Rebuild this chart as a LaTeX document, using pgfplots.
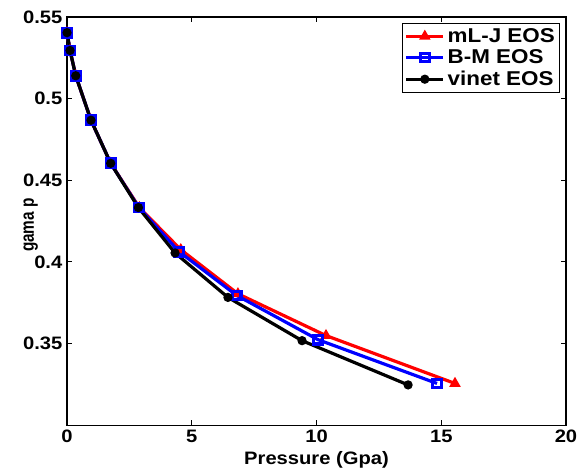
\documentclass[border=0pt]{standalone}
\usepackage{fontspec}
\setmainfont{Liberation Sans}[FakeStretch=1.12]
\newfontfamily\ylfont{Liberation Sans}
\usepackage{graphicx}
\usepackage{pgfplots}
\pgfplotsset{compat=1.18}
\newcommand{\figfont}{\fontsize{13.5}{15}\selectfont\bfseries}
\newcommand{\legfont}{\fontsize{15}{17}\selectfont\bfseries}
\begin{document}
\begin{tikzpicture}
\begin{axis}[
  name=ax,
  width=374pt, height=306pt, scale only axis,
  xmin=0, xmax=20, ymin=0.3, ymax=0.55,
  xtick={0,5,10,15,20}, ytick={0.35,0.4,0.45,0.5,0.55},
  scaled y ticks=false,
  tick align=inside, major tick length=4pt,
  axis line style={line width=1pt},
  every tick/.style={black, line width=0.8pt},
  tick label style={font=\figfont},
  /pgf/number format/assume math mode=true,
  label style={font=\figfont},
  xlabel={Pressure (Gpa)}, ylabel={\scalebox{1}[1.25]{gama p}},
  ylabel style={font=\ylfont\fontsize{11.5}{13}\selectfont\bfseries, yshift=-18pt, xshift=-3pt},
  clip=false,
  legend style={at={(0.988,0.985)}, anchor=north east, draw=black,
    line width=0.8pt, font=\legfont, inner sep=1.5pt, row sep=0pt},
  legend cell align=left,
  legend image code/.code={
    \draw[mark repeat=2,mark phase=2,#1] plot coordinates {(0cm,0cm)(0.49cm,0cm)(0.98cm,0cm)};},
]
% mL-J EOS
\addplot[red, line width=2.4pt, mark=triangle*, mark size=4pt, mark options={solid, line width=1pt}]
  coordinates{(0,0.5404)(0.12,0.5295)(0.35,0.514)(0.96,0.4868)(1.75,0.4604)(2.9,0.4333)
  (4.56,0.4075)(6.85,0.3805)(10.38,0.3549)(15.55,0.3256)};
\addlegendentry{mL-J EOS}
% B-M EOS
\addplot[blue, line width=2.4pt, mark=square, mark size=3.2pt, mark options={solid, line width=2.4pt}]
  coordinates{(0,0.5404)(0.12,0.5295)(0.35,0.514)(0.96,0.4868)(1.75,0.4604)(2.88,0.4333)
  (4.49,0.4063)(6.80,0.3795)(10.06,0.3524)(14.83,0.3256)};
\addlegendentry{B-M EOS}
% vinet EOS
\addplot[black, line width=2.4pt, mark=*, mark size=2.2pt]
  coordinates{(0,0.5404)(0.12,0.5295)(0.35,0.514)(0.96,0.4868)(1.75,0.4604)(2.86,0.4333)
  (4.33,0.4055)(6.45,0.3783)(9.42,0.3518)(13.67,0.3247)};
\addlegendentry{vinet EOS}
\end{axis}
\pgfresetboundingbox
\path[use as bounding box] ([xshift=-50.25pt,yshift=-34.5pt]ax.south west)
  rectangle ([xshift=13.5pt,yshift=12.75pt]ax.north east);
\end{tikzpicture}
\end{document}
